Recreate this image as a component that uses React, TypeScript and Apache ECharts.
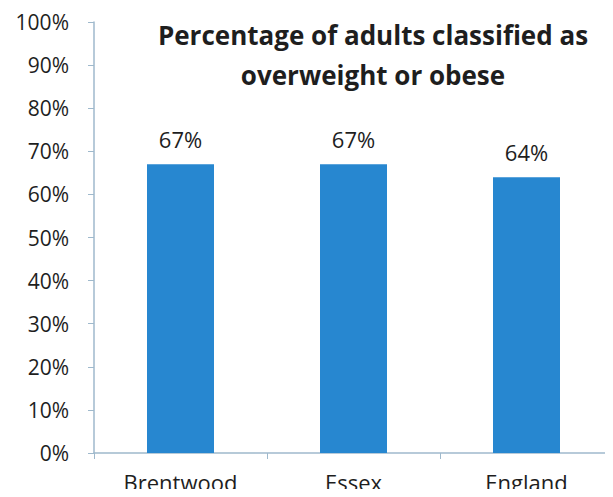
import React, { useEffect, useRef } from "react";
import * as echarts from "echarts";

const categories = ["Brentwood", "Essex", "England"];
const values = [67, 67, 64];
const yTicks = [0, 10, 20, 30, 40, 50, 60, 70, 80, 90, 100];

const FONT = "'Open Sans', 'Noto Sans', sans-serif";

export default function App() {
  const ref = useRef<HTMLDivElement>(null);

  useEffect(() => {
    if (!ref.current) return;
    const chart = echarts.init(ref.current, undefined, { renderer: "svg" });
    chart.setOption({
      animation: false,
      backgroundColor: "#ffffff",
      title: {
        text: "Percentage of adults classified as\noverweight or obese",
        left: 368,
        top: 10,
        textAlign: "center",
        textStyle: {
          fontFamily: FONT,
          fontWeight: "bold",
          fontSize: 26,
          lineHeight: 40,
          color: "#1e1e1e",
        },
      },
      grid: { left: 94, right: -3, top: 22, bottom: 44, containLabel: false },
      xAxis: {
        type: "category",
        data: categories,
        axisLine: { lineStyle: { color: "#9fb9cc", width: 1.5 } },
        axisTick: { show: true, alignWithLabel: false, length: 6, inside: false, lineStyle: { color: "#9fb9cc" } },
        axisLabel: {
          fontFamily: FONT,
          fontSize: 22,
          color: "#1e1e1e",
          margin: 18,
        },
      },
      yAxis: {
        type: "value",
        min: yTicks[0],
        max: yTicks[yTicks.length - 1],
        interval: 10,
        axisLine: { show: true, lineStyle: { color: "#9fb9cc", width: 1.5 } },
        axisTick: { show: true, length: 6, lineStyle: { color: "#9fb9cc" } },
        splitLine: { show: false },
        axisLabel: {
          fontFamily: FONT,
          fontSize: 21,
          color: "#1e1e1e",
          margin: 25,
          formatter: (v: number) => `${v}%`,
        },
      },
      series: [
        {
          type: "bar",
          data: values,
          barWidth: 67,
          itemStyle: { color: "#2787d0" },
          label: {
            show: true,
            position: "top",
            distance: 14,
            fontFamily: FONT,
            fontSize: 22,
            color: "#1e1e1e",
            formatter: (p: any) => `${p.value}%`,
          },
        },
      ],
    });
    return () => chart.dispose();
  }, []);

  return <div ref={ref} style={{ width: 613, height: 497, margin: -8 }} />;
}
